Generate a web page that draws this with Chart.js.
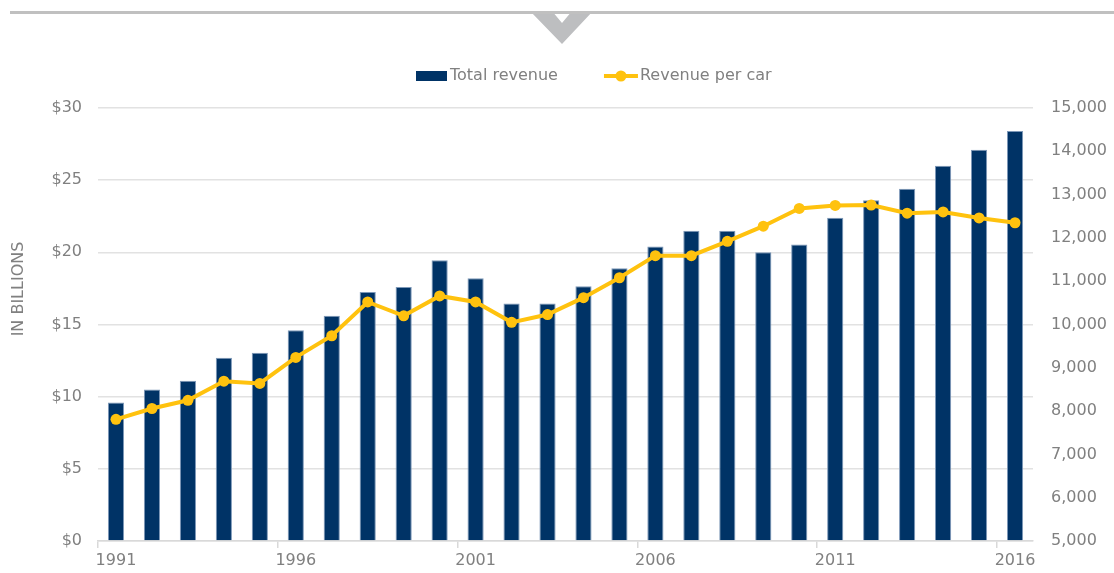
<!DOCTYPE html>
<html>
<head>
<meta charset="utf-8">
<script src="https://cdn.jsdelivr.net/npm/chart.js@4.4.0/dist/chart.umd.min.js"></script>
<style>
  html, body { margin: 0; padding: 0; background: #fff; }
</style>
</head>
<body>
<canvas id="revChart" width="1114" height="573"></canvas>
<script>
const years = ['1991', '1992', '1993', '1994', '1995', '1996', '1997', '1998', '1999', '2000',
  '2001', '2002', '2003', '2004', '2005', '2006', '2007', '2008', '2009', '2010',
  '2011', '2012', '2013', '2014', '2015', '2016'];
const tickYears = ['1991', '1996', '2001', '2006', '2011', '2016'];
// billions of dollars
const totalRevenue = [9.6, 10.5, 11.1, 12.7, 13.05, 14.6, 15.6, 17.25, 17.6, 19.45,
  18.2, 16.45, 16.45, 17.65, 18.9, 20.4, 21.5, 21.5, 20.0, 20.55,
  22.4, 23.6, 24.4, 26.0, 27.1, 28.4];
// dollars per car
const revenuePerCar = [7810, 8060, 8250, 8690, 8640, 9240, 9740, 10520, 10200, 10660,
  10520, 10050, 10230, 10620, 11080, 11590, 11590, 11920, 12270, 12680,
  12750, 12760, 12570, 12600, 12460, 12350];
const yTitle = 'IN BILLIONS';

const grey = '#808080';
const navy = '#003366';
const gold = '#FFC20E';

Chart.defaults.font.family = '"DejaVu Sans", sans-serif';
Chart.defaults.font.size = 16;
Chart.defaults.color = grey;

const decorations = {
    id: 'decorations',
    beforeDraw(chart) {
        const ctx = chart.ctx;
        ctx.save();
        // chevron under the top rule
        ctx.fillStyle = '#bdbec0';
        ctx.beginPath();
        ctx.moveTo(530, 11);
        ctx.lineTo(562, 44);
        ctx.lineTo(593, 11);
        ctx.lineTo(572, 11);
        ctx.lineTo(562, 23);
        ctx.lineTo(552, 11);
        ctx.closePath();
        ctx.fill();
        ctx.strokeStyle = '#c0c0c0';
        ctx.lineWidth = 3;
        ctx.beginPath();
        ctx.moveTo(10, 12.5);
        ctx.lineTo(1114, 12.5);
        ctx.stroke();
        ctx.restore();
    },
    afterDraw(chart) {
        const ctx = chart.ctx;
        const bars = chart.data.datasets[0];
        const line = chart.data.datasets[1];
        ctx.save();
        ctx.font = '16px "DejaVu Sans"';
        ctx.textBaseline = 'middle';
        let x = 416, y = 76;
        ctx.fillStyle = bars.backgroundColor;
        ctx.fillRect(x, y - 5, 31, 10);
        ctx.fillStyle = grey;
        ctx.fillText(bars.label, x + 34, y);
        x = x + 34 + ctx.measureText(bars.label).width + 46;
        ctx.strokeStyle = line.borderColor;
        ctx.lineWidth = 4;
        ctx.beginPath();
        ctx.moveTo(x, y);
        ctx.lineTo(x + 34, y);
        ctx.stroke();
        ctx.fillStyle = line.borderColor;
        ctx.beginPath();
        ctx.arc(x + 17, y, 5.5, 0, Math.PI * 2);
        ctx.fill();
        ctx.fillStyle = grey;
        ctx.fillText(line.label, x + 36, y);
        // left axis title
        ctx.translate(19, 289);
        ctx.rotate(-Math.PI / 2);
        ctx.textAlign = 'center';
        ctx.fillText(yTitle, 0, 0);
        ctx.restore();
    }
};

const revChart = new Chart(document.getElementById('revChart'), {
    data: {
        labels: years,
        datasets: [{
            type: 'bar',
            label: 'Total revenue',
            data: totalRevenue,
            yAxisID: 'y',
            backgroundColor: navy,
            borderColor: '#7d98b8',
            borderWidth: 1,
            categoryPercentage: 1,
            barPercentage: 0.45,
            order: 2
        }, {
            type: 'line',
            label: 'Revenue per car',
            data: revenuePerCar,
            yAxisID: 'y1',
            borderColor: gold,
            backgroundColor: gold,
            borderWidth: 4,
            pointRadius: 5.5,
            pointBorderWidth: 0,
            pointBackgroundColor: gold,
            tension: 0,
            order: 1
        }]
    },
    options: {
        responsive: false,
        animation: false,
        devicePixelRatio: 1,
        layout: { padding: { top: 108, left: 0, right: 0, bottom: 0 } },
        plugins: {
            legend: { display: false },
            tooltip: { enabled: false }
        },
        scales: {
            x: {
                type: 'category',
                offset: true,
                grid: {
                    offset: true,
                    drawOnChartArea: false,
                    tickLength: 7,
                    lineWidth: 1.5,
                    color: c => (c.index % 5 === 0 ? '#d9d9d9' : 'rgba(0,0,0,0)')
                },
                border: { color: '#d9d9d9', width: 1.5 },
                ticks: {
                    autoSkip: false,
                    maxRotation: 0,
                    padding: 3,
                    callback: function (v) {
                        const l = this.getLabelForValue(v);
                        return tickYears.includes(l) ? l : '';
                    }
                },
                afterFit: s => { s.height = 32; }
            },
            y: {
                position: 'left',
                min: 0,
                max: 30,
                ticks: { stepSize: 5, padding: 16, callback: v => '$' + v },
                grid: { color: '#e2e2e2', lineWidth: 1.5, drawTicks: false },
                border: { display: false },
                afterFit: s => { s.width = 98; }
            },
            y1: {
                position: 'right',
                min: 5000,
                max: 15000,
                ticks: { stepSize: 1000, padding: 18, callback: v => v.toLocaleString('en-US') },
                grid: { drawOnChartArea: false, drawTicks: false },
                border: { display: false },
                afterFit: s => { s.width = 81; }
            }
        }
    },
    plugins: [decorations]
});
</script>
</body>
</html>
